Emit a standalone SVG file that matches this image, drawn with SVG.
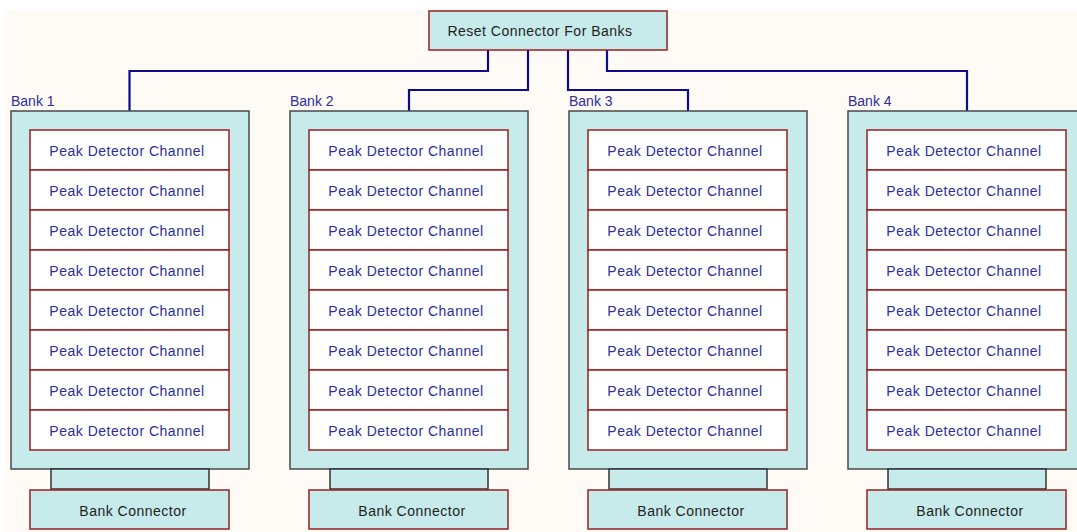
<svg xmlns="http://www.w3.org/2000/svg" width="1077" height="532" viewBox="0 0 1077 532">
  <defs>
    <style>
      .bg { fill: #fefaf5; }
      .bank { fill: #c7eaea; stroke: #4a4a4a; stroke-width: 1.5; }
      .stub { fill: #c7eaea; stroke: #333333; stroke-width: 1.5; }
      .chan { fill: #ffffff; stroke: #9a1f1f; stroke-width: 1.5; }
      .conn { fill: #c7eaea; stroke: #9a1f1f; stroke-width: 1.5; }
      .wire { fill: none; stroke: #0b0b8c; stroke-width: 2.2; }
      .lbl { font-family: "Liberation Sans", Arial, sans-serif; font-size: 14px; fill: #2e2e9a; }
      .ct { font-family: "Liberation Sans", Arial, sans-serif; font-size: 14px; letter-spacing: 0.5px; fill: #2e2e9a; text-anchor: middle; }
      .dt { font-family: "Liberation Sans", Arial, sans-serif; font-size: 14px; letter-spacing: 0.5px; fill: #222222; text-anchor: middle; }
    </style>
    <!-- one bank: frame, eight channel rows, stub and bank connector -->
    <g id="bankTpl">
      <rect class="bank" x="0" y="111" width="238" height="358"/>
      <rect class="stub" x="40" y="469" width="158" height="20"/>
      <rect class="conn" x="19" y="490" width="199" height="39"/>
      <text class="dt" x="122" y="516">Bank Connector</text>
      <rect class="chan" x="19" y="130" width="199" height="40"/>
      <rect class="chan" x="19" y="170" width="199" height="40"/>
      <rect class="chan" x="19" y="210" width="199" height="40"/>
      <rect class="chan" x="19" y="250" width="199" height="40"/>
      <rect class="chan" x="19" y="290" width="199" height="40"/>
      <rect class="chan" x="19" y="330" width="199" height="40"/>
      <rect class="chan" x="19" y="370" width="199" height="40"/>
      <rect class="chan" x="19" y="410" width="199" height="40"/>
      <text class="ct" x="116" y="156">Peak Detector Channel</text>
      <text class="ct" x="116" y="196">Peak Detector Channel</text>
      <text class="ct" x="116" y="236">Peak Detector Channel</text>
      <text class="ct" x="116" y="276">Peak Detector Channel</text>
      <text class="ct" x="116" y="316">Peak Detector Channel</text>
      <text class="ct" x="116" y="356">Peak Detector Channel</text>
      <text class="ct" x="116" y="396">Peak Detector Channel</text>
      <text class="ct" x="116" y="436">Peak Detector Channel</text>
    </g>
  </defs>

  <rect x="0" y="0" width="1077" height="532" fill="#ffffff"/>
  <rect class="bg" x="4" y="10" width="1073" height="522"/>

  <!-- reset wiring -->
  <g id="connectors">
    <path class="wire" d="M488 50 V71 H129.5 V111"/>
    <path class="wire" d="M528 50 V90 H409 V111"/>
    <path class="wire" d="M568 50 V90 H688 V111"/>
    <path class="wire" d="M607 50 V71 H967 V111"/>
  </g>

  <g id="reset">
    <rect class="conn" x="429" y="11" width="238" height="39"/>
    <text class="dt" x="540" y="36">Reset Connector For Banks</text>
  </g>

  <g id="bank1">
    <text class="lbl" x="11" y="106">Bank 1</text>
    <use href="#bankTpl" x="11"/>
  </g>
  <g id="bank2">
    <text class="lbl" x="290" y="106">Bank 2</text>
    <use href="#bankTpl" x="290"/>
  </g>
  <g id="bank3">
    <text class="lbl" x="569" y="106">Bank 3</text>
    <use href="#bankTpl" x="569"/>
  </g>
  <g id="bank4">
    <text class="lbl" x="848" y="106">Bank 4</text>
    <use href="#bankTpl" x="848"/>
  </g>
</svg>
